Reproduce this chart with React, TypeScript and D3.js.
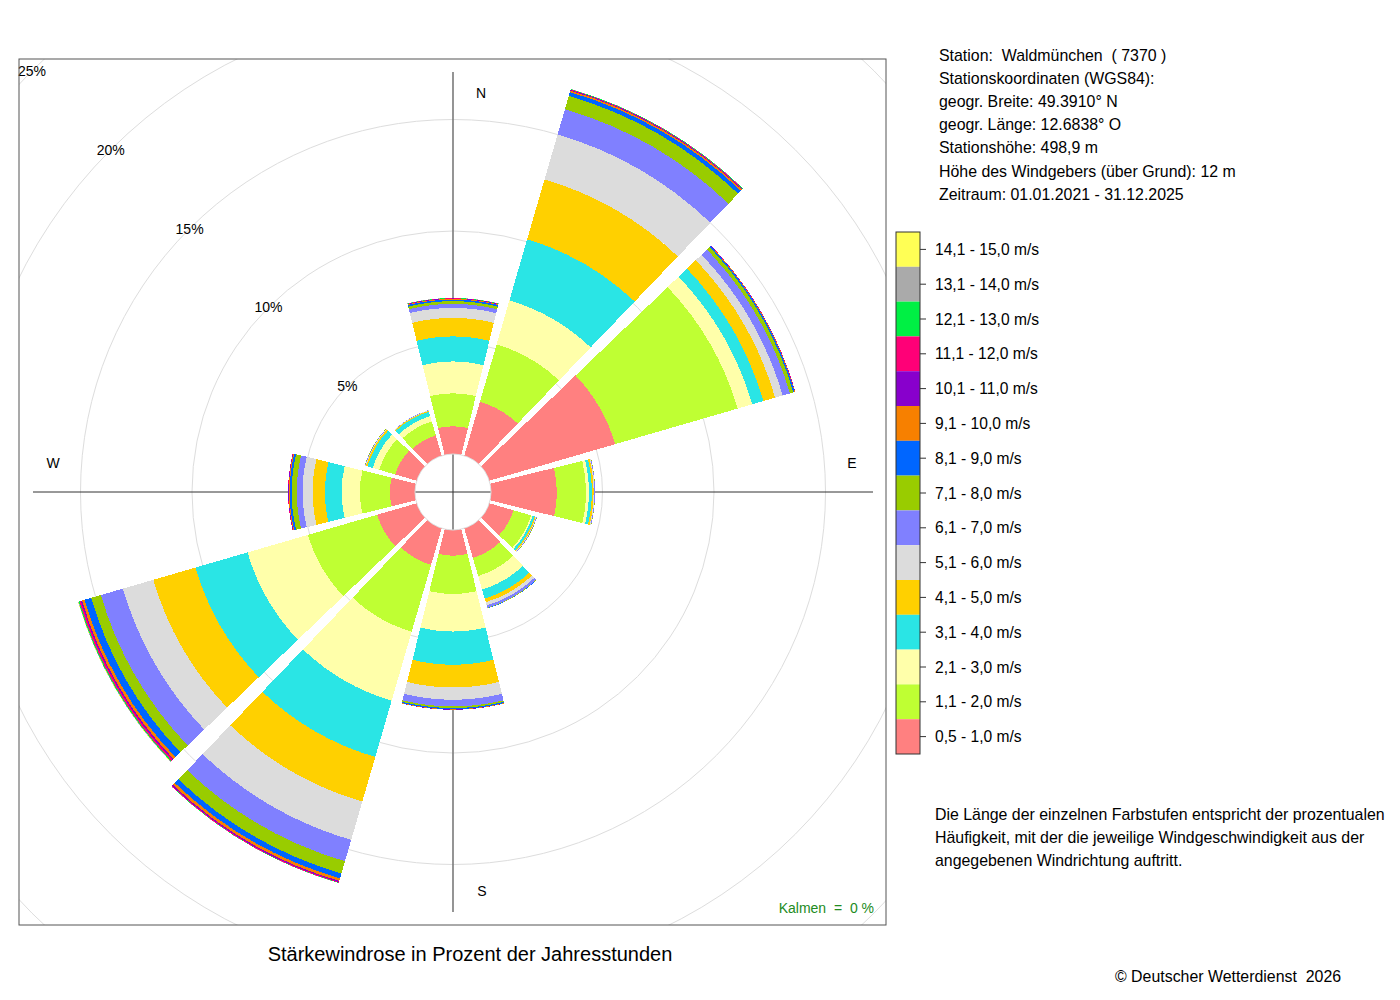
import React from "react";
import * as d3 from "d3";

// wind directions (degrees, clockwise from north)
const directions = [0, 30, 60, 90, 120, 150, 180, 210, 240, 270, 300, 330];

const speedClasses = [
  "0,5 - 1,0 m/s",
  "1,1 - 2,0 m/s",
  "2,1 - 3,0 m/s",
  "3,1 - 4,0 m/s",
  "4,1 - 5,0 m/s",
  "5,1 - 6,0 m/s",
  "6,1 - 7,0 m/s",
  "7,1 - 8,0 m/s",
  "8,1 - 9,0 m/s",
  "9,1 - 10,0 m/s",
  "10,1 - 11,0 m/s",
  "11,1 - 12,0 m/s",
  "12,1 - 13,0 m/s",
  "13,1 - 14,0 m/s",
  "14,1 - 15,0 m/s",
];

const speedColors = [
  "#FF8080",
  "#BFFF33",
  "#FFFFAA",
  "#2AE5E5",
  "#FFD000",
  "#DCDCDC",
  "#8080FF",
  "#99CC00",
  "#0066FF",
  "#F78000",
  "#8800CC",
  "#FF0077",
  "#00F044",
  "#AAAAAA",
  "#FFFF55",
];

// percent of yearly hours per speed class, one array per direction
const freqN = [1.24, 1.48, 1.43, 1.12, 0.83, 0.45, 0.18, 0.12, 0.07, 0.03, 0.02, 0.01, 0.01, 0.01, 0];
const freqNNE = [2.52, 2.68, 2.05, 2.85, 2.8, 2.1, 1.18, 0.62, 0.18, 0.07, 0.03, 0.02, 0.02, 0.01, 0];
const freqENE = [5.88, 5.72, 0.68, 0.52, 0.55, 0.35, 0.34, 0.16, 0.06, 0.02, 0.01, 0.01, 0, 0, 0];
const freqE = [2.95, 1.31, 0.13, 0.13, 0.08, 0.04, 0.02, 0.01, 0, 0, 0, 0, 0, 0, 0];
const freqESE = [1.13, 0.82, 0.07, 0.1, 0.05, 0.03, 0.02, 0.01, 0, 0, 0, 0, 0, 0, 0];
const freqSSE = [1.38, 0.85, 0.63, 0.42, 0.17, 0.15, 0.11, 0.02, 0.01, 0, 0, 0, 0, 0, 0];
const freqS = [1.15, 1.72, 1.68, 1.49, 1.02, 0.55, 0.3, 0.07, 0.05, 0.02, 0.01, 0, 0, 0, 0];
const freqSSW = [1.71, 3.12, 3.22, 2.63, 2.08, 1.79, 1.0, 0.57, 0.23, 0.12, 0.05, 0.03, 0.01, 0.01, 0];
const freqWSW = [1.85, 3.23, 2.82, 2.43, 1.97, 1.42, 1.03, 0.45, 0.31, 0.12, 0.05, 0.07, 0.04, 0.02, 0.01];
const freqW = [1.12, 1.35, 0.82, 0.75, 0.55, 0.45, 0.26, 0.23, 0.09, 0.04, 0.02, 0.01, 0, 0, 0];
const freqWNW = [1.0, 0.75, 0.3, 0.25, 0.07, 0.03, 0.02, 0.01, 0, 0, 0, 0, 0, 0, 0];
const freqNNW = [0.95, 0.65, 0.25, 0.2, 0.05, 0.02, 0.01, 0, 0, 0, 0, 0, 0, 0, 0];

const freqByDirection = [
  freqN, freqNNE, freqENE, freqE, freqESE, freqSSE,
  freqS, freqSSW, freqWSW, freqW, freqWNW, freqNNW,
];

const ringTicks = [5, 10, 15, 20, 25];

const compassLabels = ["N", "E", "S", "W"];

const infoLines = [
  "Station:  Waldmünchen  ( 7370 )",
  "Stationskoordinaten (WGS84):",
  "geogr. Breite: 49.3910° N",
  "geogr. Länge: 12.6838° O",
  "Stationshöhe: 498,9 m",
  "Höhe des Windgebers (über Grund): 12 m",
  "Zeitraum: 01.01.2021 - 31.12.2025",
];

const noteLines = [
  "Die Länge der einzelnen Farbstufen entspricht der prozentualen",
  "Häufigkeit, mit der die jeweilige Windgeschwindigkeit aus der",
  "angegebenen Windrichtung auftritt.",
];

const FONT = "'Liberation Sans', Arial, Helvetica, sans-serif";

const App: React.FC = () => {
  const cx = 453;
  const cy = 492;
  const box = { x: 19, y: 59, w: 867, h: 866 };
  const r = d3.scaleLinear().domain([0, 25]).range([38, 38 + 25 * 22.3]);

  const toRad = (deg: number) => (deg * Math.PI) / 180;
  // half width of a sector at radius rr: slightly narrowed + small parallel gap
  const halfAngle = (rr: number) => 13.8 - (Math.asin(0.7 / rr) * 180) / Math.PI;

  const bandPath = (dir: number, r0: number, r1: number) => {
    const p = d3.path();
    const s1 = toRad(dir - halfAngle(r1) - 90);
    const e1 = toRad(dir + halfAngle(r1) - 90);
    const s0 = toRad(dir - halfAngle(r0) - 90);
    const e0 = toRad(dir + halfAngle(r0) - 90);
    p.moveTo(cx + r1 * Math.cos(s1), cy + r1 * Math.sin(s1));
    p.arc(cx, cy, r1, s1, e1, false);
    p.lineTo(cx + r0 * Math.cos(e0), cy + r0 * Math.sin(e0));
    p.arc(cx, cy, r0, e0, s0, true);
    p.closePath();
    return p.toString();
  };

  const bands: { key: string; d: string; fill: string }[] = [];
  directions.forEach((dir, i) => {
    const cum = Array.from(d3.cumsum(freqByDirection[i]));
    cum.forEach((c, j) => {
      const prev = j === 0 ? 0 : cum[j - 1];
      if (c - prev <= 0) return;
      bands.push({
        key: `${dir}-${j}`,
        d: bandPath(dir, r(prev), r(c)),
        fill: speedColors[j],
      });
    });
  });

  const axisLen = 420;
  const compassPos: Record<string, [number, number]> = {
    N: [cx + 28, cy - 399],
    E: [cx + 399, cy - 29],
    S: [cx + 29, cy + 399],
    W: [cx - 400, cy - 29],
  };

  const legendX = 896;
  const legendTop = 232;
  const cellH = 34.8;
  const legendOrder = d3.range(speedClasses.length).reverse();
  const textSize = 15.9;

  return (
    <>
      <style>{"body{margin:0}"}</style>
      <svg width={1400} height={1000} style={{ display: "block", background: "#fff" }} fontFamily={FONT}>
        <defs>
          <clipPath id="plotClip">
            <rect x={box.x} y={box.y} width={box.w} height={box.h} />
          </clipPath>
        </defs>

        <g clipPath="url(#plotClip)">
          {ringTicks.map((t) => (
            <circle key={t} cx={cx} cy={cy} r={r(t)} fill="none" stroke="#dddddd" strokeWidth={1} />
          ))}
        </g>

        <line x1={cx} x2={cx} y1={cy - axisLen} y2={cy + axisLen} stroke="#7a7a7a" strokeWidth={1.6} />
        <line x1={cx - axisLen} x2={cx + axisLen} y1={cy} y2={cy} stroke="#333" strokeWidth={1} />

        <g shapeRendering="crispEdges">
          {bands.map((b) => (
            <path key={b.key} d={b.d} fill={b.fill} />
          ))}
        </g>
        <circle cx={cx} cy={cy} r={r(0)} fill="none" stroke="#dddddd" strokeWidth={1} />

        {ringTicks.map((t) => (
          <text
            key={t}
            x={cx - r(t) * Math.SQRT1_2}
            y={cy - r(t) * Math.SQRT1_2}
            fontSize={14}
            textAnchor="middle"
            dominantBaseline="central"
          >
            {`${t}%`}
          </text>
        ))}

        {compassLabels.map((l) => (
          <text
            key={l}
            x={compassPos[l][0]}
            y={compassPos[l][1]}
            fontSize={14}
            textAnchor="middle"
            dominantBaseline="central"
          >
            {l}
          </text>
        ))}

        <rect x={box.x} y={box.y} width={box.w} height={box.h} fill="none" stroke="#555" strokeWidth={1} />

        <text x={874} y={908} fontSize={14} fill="#228B22" textAnchor="end" dominantBaseline="central" style={{ whiteSpace: "pre" }}>
          {"Kalmen  =  0 %"}
        </text>

        <text x={470} y={954} fontSize={20} textAnchor="middle" dominantBaseline="central">
          Stärkewindrose in Prozent der Jahresstunden
        </text>

        {infoLines.map((l, i) => (
          <text key={i} x={939} y={55 + i * 23.2} fontSize={textSize} dominantBaseline="central" style={{ whiteSpace: "pre" }}>
            {l}
          </text>
        ))}

        <g>
          {legendOrder.map((k, i) => (
            <g key={k}>
              <rect x={legendX} y={legendTop + i * cellH} width={24} height={cellH} fill={speedColors[k]} />
              <line
                x1={legendX + 24}
                x2={legendX + 30}
                y1={legendTop + (i + 0.5) * cellH}
                y2={legendTop + (i + 0.5) * cellH}
                stroke="#333"
              />
              <text x={935} y={legendTop + (i + 0.5) * cellH} fontSize={15.6} dominantBaseline="central">
                {speedClasses[k]}
              </text>
            </g>
          ))}
          <rect
            x={legendX}
            y={legendTop}
            width={24}
            height={cellH * speedClasses.length}
            fill="none"
            stroke="#333"
            strokeWidth={1}
          />
        </g>

        {noteLines.map((l, i) => (
          <text key={i} x={935} y={814 + i * 23} fontSize={textSize} dominantBaseline="central">
            {l}
          </text>
        ))}

        <text x={1115} y={976} fontSize={textSize} dominantBaseline="central" style={{ whiteSpace: "pre" }}>
          {"© Deutscher Wetterdienst  2026"}
        </text>
      </svg>
    </>
  );
};

export default App;
